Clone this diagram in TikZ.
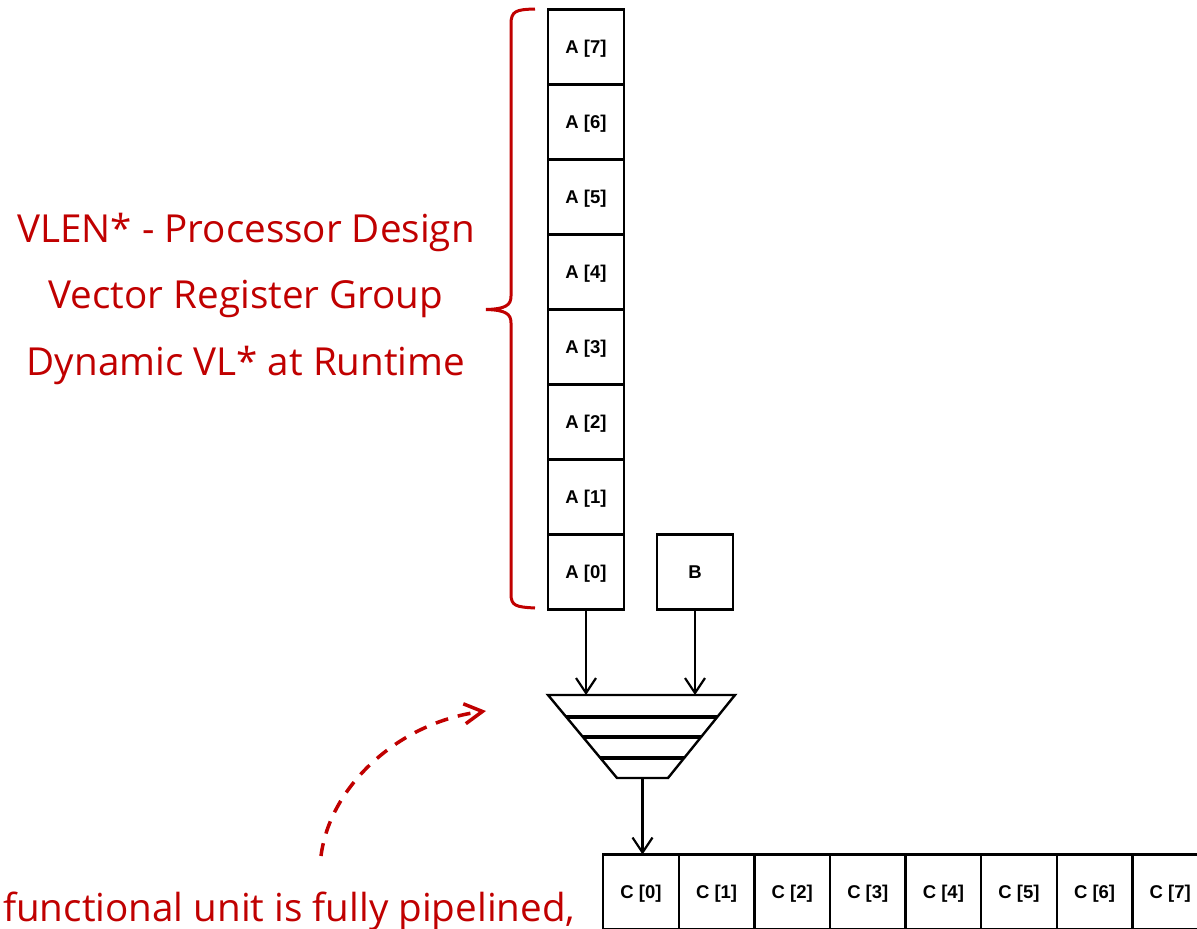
\documentclass[tikz,border=0pt]{standalone}
\usepackage{fontspec}
\setmainfont{Liberation Sans}
\newfontfamily\notefont{Open Sans}
\usetikzlibrary{positioning,calc,arrows.meta}
\definecolor{darkred}{HTML}{C00000}

\tikzset{
  reg/.style={draw,line width=2.4pt,minimum width=76pt,minimum height=75pt,
    inner sep=0pt,outer sep=0pt,text depth=0pt,
    font=\fontsize{18.5}{21}\selectfont\bfseries},
  cell/.style={reg,minimum width=75.6pt},
  note/.style={text=darkred,font=\notefont\fontsize{38.6}{46}\selectfont,
    inner sep=0pt,anchor=base},
  flow/.style={line width=2.2pt,-{Straight Barb[length=15pt,width=20pt]}},
}

\begin{document}
\begin{tikzpicture}[x=1pt,y=-1pt]
    \useasboundingbox (0,0) rectangle (1197,929);

    % register group A
    \node[reg] (A0) at (586,572) {A [0]};
    \foreach \i [remember=\i as \lasti (initially 0)] in {1,...,7} {
        \node[reg,above=0pt of A\lasti] (A\i) {A [\i]};
    }
    \node[reg,right=33pt of A0] (B) {B};

    % pipelined unit
    \coordinate (tl) at (548,695);
    \coordinate (tr) at (735,695);
    \coordinate (br) at (668,778);
    \coordinate (bl) at (617,778);
    \draw[line width=2.4pt] (tl) -- (tr) -- (br) -- (bl) -- cycle;
    \foreach \t in {0.265,0.506,0.759} {
        \draw[line width=3.2pt] ($(tl)!\t!(bl)$) -- ($(tr)!\t!(br)$);
    }
    \coordinate (ina) at (A0 |- tl);
    \coordinate (inb) at (B |- tl);
    \coordinate (out) at ($(bl)!0.5!(br)$);

    \draw[flow] (A0) -- (ina);
    \draw[flow] (B) -- (inb);

    % result C
    \node[cell] (C0) at (641,892) {C [0]};
    \foreach \i [remember=\i as \lasti (initially 0)] in {1,...,7} {
        \node[cell,right=0pt of C\lasti] (C\i) {C [\i]};
    }
    \draw[flow] (out) -- (out |- C0.north);

    % brace
    \draw[darkred,line width=3pt] (535,9) .. controls (516,9.5) and (511,11) .. (511,24)
        -- (511,296) .. controls (511,305) and (506,309) .. (486,309.5)
        .. controls (506,310) and (511,314) .. (511,323)
        -- (511,594) .. controls (511,606) and (516,607) .. (535,608);

    \node[note] (vlen) at (246,242) {VLEN* - Processor Design};
    \node[note] (group) at (246,308) {Vector Register Group};
    \node[note] (dynvl) at (246,375) {Dynamic VL* at Runtime};

    % hint
    \coordinate (hintstart) at (321,856);
    \coordinate (hintend) at (486,711);
    \draw[darkred,line width=3.5pt,dash pattern=on 13pt off 10pt,
        -{Straight Barb[length=18pt,width=20pt]}]
        (hintstart) .. controls (330,785) and (400,722) .. (hintend);
    \node[note,anchor=base west] (pipe) at (3,921) {functional unit is fully pipelined,};
\end{tikzpicture}
\end{document}
